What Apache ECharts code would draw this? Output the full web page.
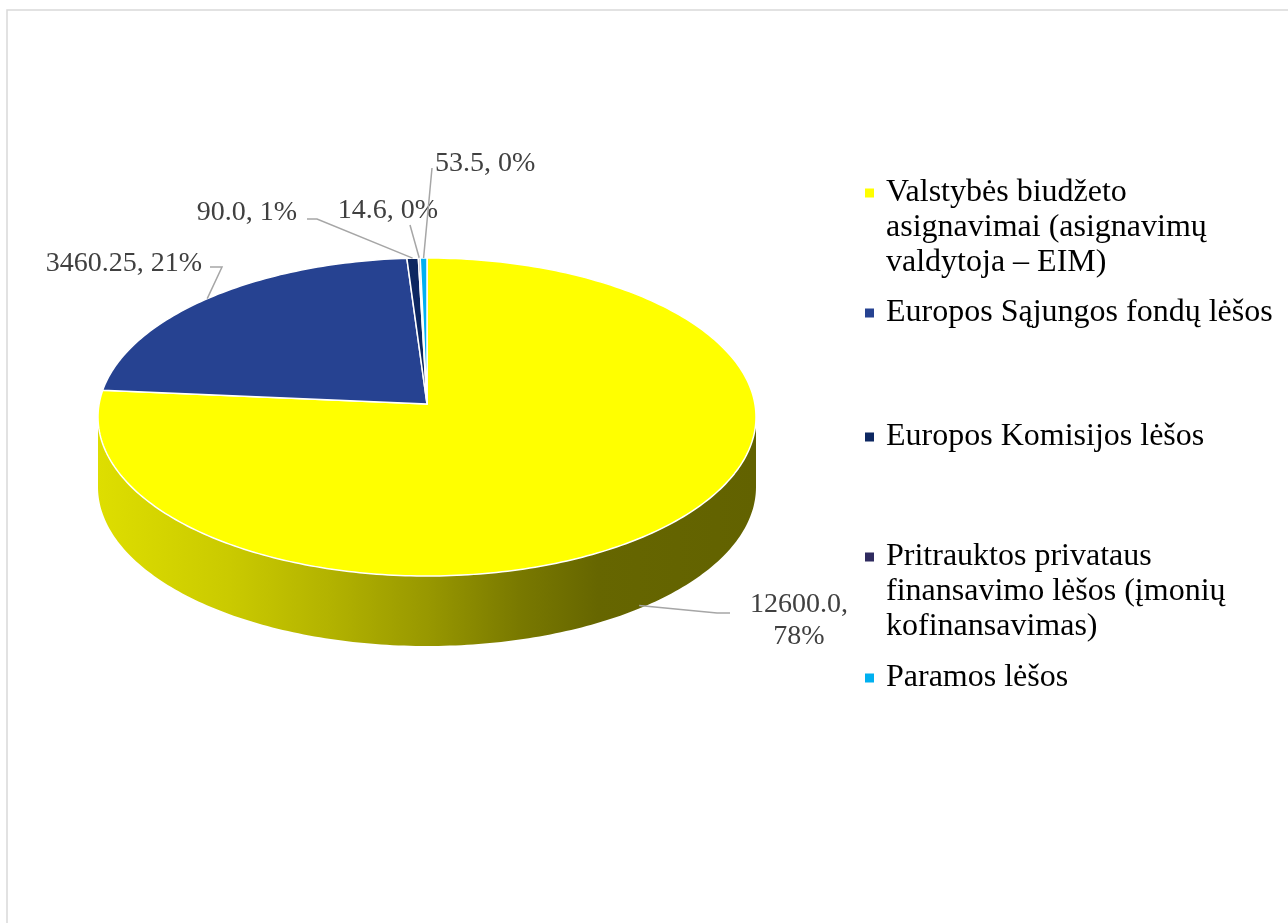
<!DOCTYPE html>
<html>
<head>
<meta charset="utf-8">
<script src="https://cdn.jsdelivr.net/npm/echarts@6/dist/echarts.min.js"></script>
<style>
  html, body { margin: 0; padding: 0; background: #fff; }
  #main { width: 1288px; height: 923px; }
</style>
</head>
<body>
<div id="main"></div>
<script>
// finansavimo šaltiniai
const categories = [
  'Valstybės biudžeto asignavimai (asignavimų valdytoja – EIM)',
  'Europos Sąjungos fondų lėšos',
  'Europos Komisijos lėšos',
  'Pritrauktos privataus finansavimo lėšos (įmonių kofinansavimas)',
  'Paramos lėšos'
];
const values = [12600.0, 3460.25, 90.0, 14.6, 53.5];
// kaip legendoje laužomos eilutės
const legendLines = [
  ['Valstybės biudžeto', 'asignavimai (asignavimų', 'valdytoja – EIM)'],
  ['Europos Sąjungos fondų lėšos'],
  ['Europos Komisijos lėšos'],
  ['Pritrauktos privataus', 'finansavimo lėšos (įmonių', 'kofinansavimas)'],
  ['Paramos lėšos']
];

const colors = ['#ffff00', '#264291', '#0d2761', '#2f2b5f', '#00b0f0'];
const FONT = '"Liberation Serif", "Times New Roman", serif';

// 3D pyrago geometrija (elipsė + šoninė sienelė), apex – perspektyvos centras
const P = { cx: 427, cy: 417, rx: 329, ry: 159, depth: 70, apexDy: -13 };
// legendos žymeklių centrai (y)
const legendCenters = [193, 313, 437, 557, 678];
const LINE_H = 35;
// etikečių vietos (kaip Excel'yje ranka sudėliotos)
const labelPlace = [
  { x: 799, y: 621, align: 'center', wrap: true,  elbow: [[730, 613], [717, 613]] },
  { x: 202, y: 264, align: 'right',  wrap: false, elbow: [[210, 267], [222, 267]] },
  { x: 297, y: 213, align: 'right',  wrap: false, elbow: [[307, 219], [317, 219]] },
  { x: 388, y: 211, align: 'center', wrap: false, elbow: [[410, 225]] },
  { x: 435, y: 164, align: 'left',   wrap: false, elbow: [[432, 168]] }
];

const total = values.reduce((a, b) => a + b, 0);
const angles = [];
let acc = 0;
values.forEach((v) => {
  const a0 = -Math.PI / 2 + (acc / total) * Math.PI * 2;
  acc += v;
  const a1 = -Math.PI / 2 + (acc / total) * Math.PI * 2;
  angles.push([a0, a1]);
});

const ellPt = (a, dy) => [P.cx + P.rx * Math.cos(a), P.cy + P.ry * Math.sin(a) + (dy || 0)];
function arc(a0, a1, dy) {
  const n = Math.max(2, Math.ceil(Math.abs(a1 - a0) / (Math.PI / 180)));
  const pts = [];
  for (let k = 0; k <= n; k++) pts.push(ellPt(a0 + (a1 - a0) * k / n, dy));
  return pts;
}
const fmtVal = (v) => (Number.isInteger(v) ? v.toFixed(1) : String(v));

const wallFill = [
  {
    type: 'linear', x: P.cx - P.rx, y: 0, x2: P.cx + P.rx, y2: 0, global: true,
    colorStops: [
      { offset: 0, color: '#dede00' },
      { offset: 0.2, color: '#caca00' },
      { offset: 0.35, color: '#b3b300' },
      { offset: 0.5, color: '#989800' },
      { offset: 0.64, color: '#797900' },
      { offset: 0.76, color: '#666600' },
      { offset: 1, color: '#626200' }
    ]
  },
  '#172a60', '#07163a', '#1c1a3a', '#00729c'
];

// sienelės – po viršutiniu paviršiumi
const wallSeries = {
  type: 'custom',
  name: 'wall',
  coordinateSystem: 'none',
  silent: true,
  z: 1,
  data: values.map((v) => [v]),
  renderItem(params) {
    const i = params.dataIndex;
    const [a0, a1] = angles[i];
    const lo = Math.max(a0, 0);
    const hi = Math.min(a1, Math.PI);
    if (hi <= lo) return { type: 'group', children: [] };
    const pts = arc(lo, hi, 0).concat(arc(hi, lo, P.depth));
    return {
      type: 'polygon',
      shape: { points: pts },
      style: { fill: wallFill[i], stroke: null }
    };
  }
};

const sliceSeries = categories.map((name, i) => ({
  type: 'custom',
  name,
  coordinateSystem: 'none',
  z: 2,
  itemStyle: { color: colors[i] },
  data: [[values[i]]],
  renderItem(params, api) {
    const v = api.value(0);
    const [a0, a1] = angles[i];
    const face = [[P.cx, P.cy + P.apexDy]].concat(arc(a0, a1, 0));
    const mid = (a0 + a1) / 2;
    const anchor = Math.sin(mid) > 0 ? ellPt(mid, P.depth - 3) : ellPt(mid, 0);
    const lp = labelPlace[i];
    const pct = Math.round(v / total * 100);
    const txt = fmtVal(v) + ',' + (lp.wrap ? '\n' : ' ') + pct + '%';
    return {
      type: 'group',
      children: [
        {
          type: 'polygon',
          shape: { points: face },
          style: { fill: colors[i], stroke: '#ffffff', lineWidth: 1.5, lineJoin: 'round' }
        },
        {
          type: 'polyline',
          shape: { points: lp.elbow.concat([anchor]) },
          style: { stroke: '#a6a6a6', lineWidth: 1.5, fill: null }
        },
        {
          type: 'text',
          style: {
            text: txt,
            x: lp.x,
            y: lp.y,
            fill: '#404040',
            font: '28px ' + FONT,
            lineHeight: 32,
            align: lp.align,
            textAlign: lp.align,
            verticalAlign: 'middle',
            textVerticalAlign: 'middle'
          }
        }
      ]
    };
  }
}));

// atskira legenda kiekvienam įrašui, kad tarpai būtų kaip originale
const legends = categories.map((name, i) => {
  const lines = legendLines[i];
  const shown = lines.length > 1 ? ['', ''].concat(lines) : lines;
  return {
    data: [name],
    orient: 'vertical',
    left: 865,
    top: legendCenters[i] - shown.length * LINE_H / 2,
    padding: 0,
    selectedMode: false,
    icon: 'path://M0 0H9V9H0Z M15.9 0H16V0.1H15.9Z',
    itemWidth: 16,
    itemHeight: 9,
    formatter: () => shown.join('\n'),
    textStyle: {
      fontFamily: FONT,
      fontSize: 32,
      lineHeight: LINE_H,
      color: '#000'
    }
  };
});

const chart = echarts.init(document.getElementById('main'));
chart.setOption({
  animation: false,
  backgroundColor: '#fff',
  graphic: [{
    type: 'rect',
    silent: true,
    shape: { x: 7, y: 10, width: 1400, height: 1000 },
    style: { fill: null, stroke: '#d9d9d9', lineWidth: 1.5 }
  }],
  legend: legends,
  series: [wallSeries].concat(sliceSeries)
});
</script>
</body>
</html>
